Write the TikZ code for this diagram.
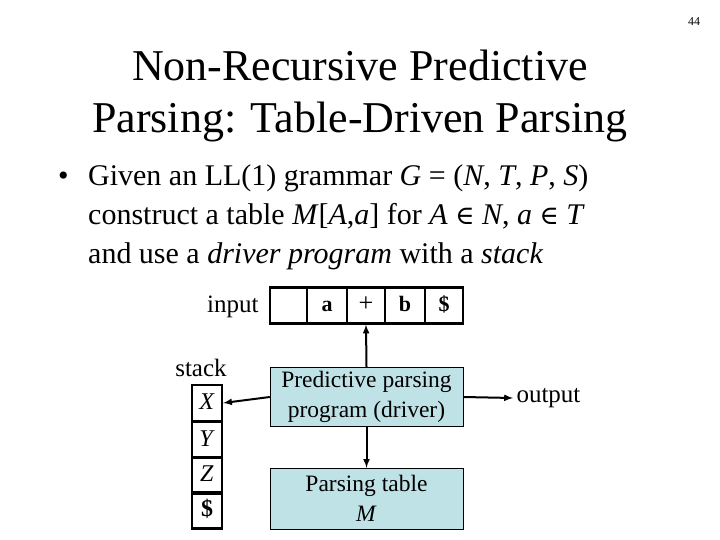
\documentclass[tikz,border=0pt]{standalone}
\usepackage{fontspec}
\setmainfont{Liberation Serif}
\newfontfamily\symf{DejaVu Serif}
\definecolor{boxfill}{RGB}{191,226,231}
\begin{document}
\begin{tikzpicture}[x=1pt,y=-1pt,
  cell/.style={draw,line width=2.2pt,minimum width=37pt,minimum height=36pt,inner sep=0pt,text height=15pt,text depth=4pt,font=\fontsize{22}{24}\selectfont\bfseries},
  scell/.style={draw,line width=2.2pt,minimum width=30pt,minimum height=36pt,inner sep=0pt,text height=16pt,text depth=4pt,font=\fontsize{24}{26}\selectfont},
  blk/.style={draw,fill=boxfill,minimum width=193pt,inner sep=0pt,align=center,font=\fontsize{23.5}{30}\selectfont},
  arr/.style={-latex,line width=2pt},
  lbl/.style={font=\fontsize{25}{27}\selectfont}]
\useasboundingbox (0,0) rectangle (720,540);
\node[font=\fontsize{12}{14}\selectfont] (pg) at (694,22) {44};
\node[align=center,font=\fontsize{44}{52}\selectfont] (title) at (360,96) {Non-Recursive Predictive\\Parsing: Table-Driven Parsing};
\node[anchor=north west,align=left,font=\fontsize{30}{39}\selectfont,inner sep=0pt] (bul) at (58,164)
  {\makebox[30pt][l]{•}Given an LL(1) grammar \textit{G} = (\textit{N}, \textit{T}, \textit{P}, \textit{S})\\
   \hspace*{30pt}construct a table \textit{M}[\textit{A},\textit{a}] for \textit{A} {\symf\fontsize{26}{39}\selectfont ∈} \textit{N}, \textit{a} {\symf\fontsize{26}{39}\selectfont ∈} \textit{T}\\
   \hspace*{30pt}and use a \textit{driver program} with a \textit{stack}};
% input tape
\node[cell] (c0) at (288.5,305.5) {};
\node[cell,minimum width=40pt] (c1) at (327,305.5) {a};
\node[cell,minimum width=38pt,font=\fontsize{26}{28}\selectfont] (c2) at (366,305.5) {+};
\node[cell,minimum width=40pt] (c3) at (405,305.5) {b};
\node[cell,minimum width=38pt] (c4) at (444,305.5) {\$};
\node[lbl,anchor=east] (inp) at (262,307) {input};
% stack
\node[scell] (s1) at (207,403) {\textit{X}};
\node[scell] (s2) at (207,440) {\textit{Y}};
\node[scell] (s3) at (207,475.5) {\textit{Z}};
\node[scell,font=\fontsize{24}{26}\selectfont\bfseries] (s4) at (207,510.5) {\$};
\node[lbl] (stk) at (201,368) {stack};
% blocks
\node[blk,minimum height=59pt] (drv) at (366.5,396.5) {Predictive parsing\\program (driver)};
\node[blk,minimum height=61pt] (tab) at (366.5,498.5) {Parsing table\\\textit{M}};
\node[lbl,anchor=west] (out) at (513,398) {output};
\draw[arr] (drv.north) -- (c2.south);
\draw[arr] (drv.south) -- (tab.north);
\draw[arr] (drv.west |- 0,397) -- (s1.east);
\draw[arr] (drv.east |- 0,397) -- (out.west);
\end{tikzpicture}
\end{document}
